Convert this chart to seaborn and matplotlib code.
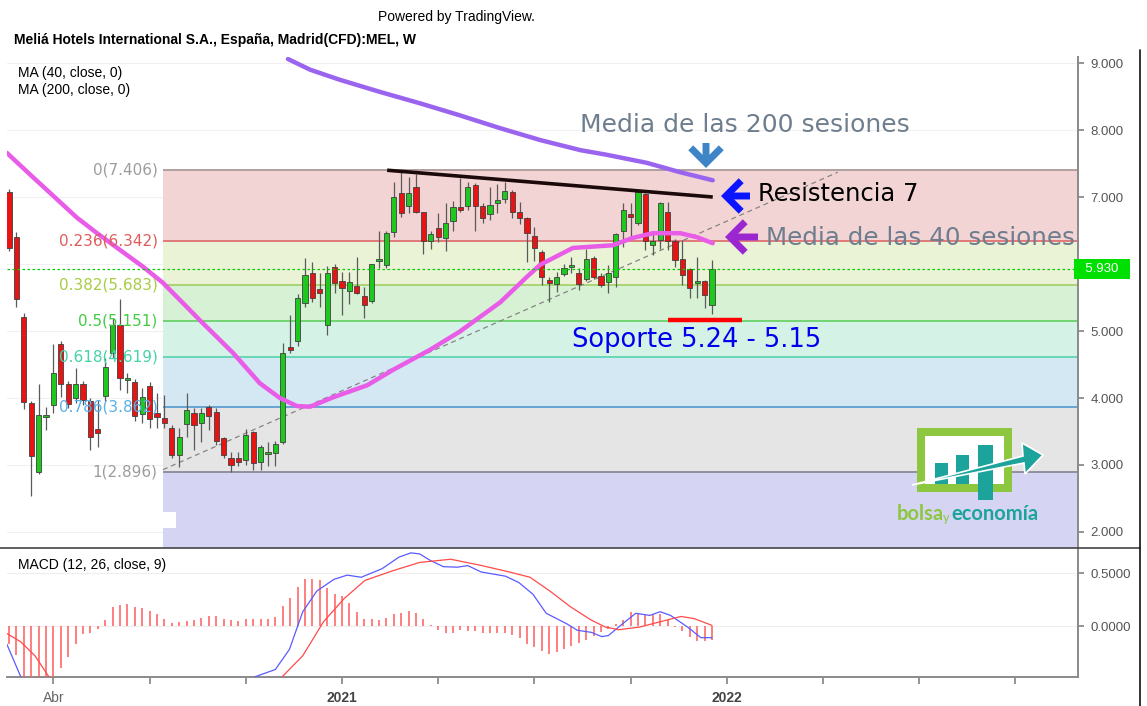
import numpy as np
import matplotlib
matplotlib.use("Agg")
import matplotlib.pyplot as plt
import seaborn as sns
from matplotlib.patches import Rectangle, Polygon, FancyArrowPatch

# Weekly candles, Melia Hotels (MEL), 24 Feb 2020 - 20 Dec 2021
opens = [7.07, 6.40, 5.21, 3.93, 2.90, 3.72, 3.90, 4.81, 4.21, 4.00,
         4.21, 3.96, 3.54, 4.03, 4.67, 5.09, 4.27, 4.24, 3.76, 4.18,
         3.78, 3.70, 3.55, 3.15, 3.61, 3.78, 3.62, 3.87, 3.79, 3.40,
         3.10, 3.10, 3.07, 3.49, 3.05, 3.17, 3.18, 3.34, 4.76, 4.85,
         5.42, 5.87, 5.63, 5.09, 5.96, 5.75, 5.60, 5.67, 5.52, 5.45,
         6.05, 5.99, 6.48, 7.06, 6.87, 7.15, 6.78, 6.34, 6.54, 6.39,
         6.64, 6.85, 6.87, 7.18, 6.87, 6.75, 6.91, 6.97, 7.07, 6.78,
         6.69, 6.42, 6.18, 5.76, 5.70, 5.85, 5.95, 5.87, 5.78, 6.09,
         5.82, 5.73, 5.81, 6.49, 6.75, 6.61, 7.04, 6.28, 6.36, 6.78,
         6.34, 6.07, 5.93, 5.71, 5.75, 5.39]
highs = [7.12, 6.48, 5.27, 3.95, 4.21, 3.87, 4.81, 4.85, 4.25, 4.45,
         4.25, 4.00, 3.97, 4.60, 5.20, 5.48, 4.37, 4.28, 4.15, 4.24,
         4.08, 4.05, 3.60, 3.55, 4.07, 3.85, 3.85, 3.90, 3.85, 3.42,
         3.19, 3.20, 3.54, 3.50, 3.30, 3.35, 3.36, 4.82, 5.24, 5.55,
         6.09, 6.03, 5.87, 5.97, 6.00, 5.88, 5.88, 6.10, 5.66, 6.00,
         6.50, 6.50, 7.22, 7.37, 7.30, 7.34, 6.78, 6.50, 6.76, 6.91,
         6.94, 7.28, 7.22, 7.21, 6.91, 7.15, 7.19, 7.22, 7.10, 6.93,
         6.70, 6.55, 6.21, 5.80, 5.88, 6.00, 6.10, 5.94, 6.22, 6.12,
         5.87, 5.99, 6.46, 6.91, 6.91, 7.10, 7.06, 6.48, 6.93, 6.93,
         6.37, 6.36, 5.94, 6.10, 5.76, 6.06]
lows = [6.20, 5.36, 3.84, 2.54, 2.87, 3.52, 3.78, 4.01, 3.85, 3.93,
        3.90, 3.22, 3.27, 3.95, 4.60, 4.12, 4.07, 3.66, 3.62, 3.55,
        3.55, 3.55, 3.10, 2.97, 3.42, 3.22, 3.34, 3.52, 3.30, 3.10,
        2.90, 2.98, 3.00, 2.93, 2.93, 2.98, 2.98, 3.32, 4.67, 4.78,
        5.36, 5.43, 5.36, 4.94, 5.57, 5.24, 5.40, 5.55, 5.20, 5.42,
        5.94, 5.94, 6.40, 6.70, 6.76, 6.76, 6.15, 6.23, 6.33, 6.20,
        6.50, 6.78, 6.80, 6.50, 6.61, 6.66, 6.76, 6.91, 6.69, 6.60,
        6.03, 6.04, 5.69, 5.43, 5.58, 5.82, 5.87, 5.61, 5.75, 5.78,
        5.66, 5.57, 5.66, 6.25, 6.40, 6.58, 6.21, 6.13, 6.23, 6.21,
        5.96, 5.69, 5.49, 5.49, 5.34, 5.25]
closes = [6.24, 5.48, 3.94, 3.13, 3.75, 3.74, 4.37, 4.21, 3.91, 4.21,
          3.97, 3.42, 3.48, 4.46, 5.09, 4.30, 4.29, 3.73, 4.01, 3.69,
          3.72, 3.63, 3.15, 3.42, 3.82, 3.60, 3.78, 3.73, 3.36, 3.15,
          3.00, 3.05, 3.45, 3.03, 3.27, 3.19, 3.32, 4.67, 4.72, 5.50,
          5.84, 5.49, 5.57, 5.87, 5.72, 5.64, 5.73, 5.57, 5.39, 6.00,
          6.06, 6.46, 7.00, 6.76, 7.06, 6.78, 6.34, 6.45, 6.40, 6.61,
          6.85, 6.80, 7.15, 6.87, 6.69, 6.88, 6.96, 7.09, 6.78, 6.69,
          6.46, 6.24, 5.81, 5.72, 5.80, 5.94, 5.96, 5.70, 6.07, 5.80,
          5.69, 5.87, 6.45, 6.81, 6.70, 7.07, 6.34, 6.34, 6.91, 6.34,
          6.06, 5.84, 5.64, 5.73, 5.54, 5.93]

# moving averages (bar index, price)
ma40_x = [-0.3, 3.2, 9.2, 11.9, 18.1, 20.8, 25.8, 30.3, 33.9, 36.6, 38.9, 40.7,
          43.8, 48.4, 51.9, 56.9, 60.9, 66.4, 70.0, 71.8, 76.2, 81.6, 84.3, 87.0,
          90.7, 93.0, 95.1]
ma40_y = [7.66, 7.30, 6.69, 6.46, 5.96, 5.72, 5.16, 4.67, 4.22, 4.00, 3.88, 3.87,
          4.01, 4.19, 4.42, 4.72, 4.99, 5.43, 5.81, 5.99, 6.24, 6.28, 6.39, 6.46,
          6.46, 6.40, 6.31]
ma200_x = [37.7, 40.7, 44.7, 50.1, 55.5, 60.9, 66.3, 71.8, 77.2, 80.8, 86.2, 90.7, 95.1]
ma200_y = [9.06, 8.90, 8.75, 8.57, 8.40, 8.22, 8.03, 7.85, 7.70, 7.63, 7.51, 7.37, 7.25]

# MACD (12, 26, close, 9)
macd_hist = [-0.17, -0.27, -0.48, -0.48, -0.48, -0.48, -0.48, -0.40, -0.29, -0.17,
             -0.08, -0.07, -0.03, 0.055, 0.18, 0.20, 0.21, 0.18, 0.17, 0.145,
             0.11, 0.07, 0.03, 0.04, 0.045, 0.055, 0.08, 0.09, 0.09, 0.065,
             0.055, 0.05, 0.065, 0.065, 0.07, 0.07, 0.085, 0.19, 0.265, 0.37,
             0.44, 0.44, 0.435, 0.36, 0.30, 0.28, 0.215, 0.135, 0.07, 0.065,
             0.055, 0.08, 0.11, 0.12, 0.14, 0.12, 0.07, 0.013, -0.04, -0.065,
             -0.065, -0.04, -0.05, -0.05, -0.065, -0.065, -0.065, -0.065, -0.085, -0.115,
             -0.165, -0.20, -0.235, -0.26, -0.245, -0.22, -0.19, -0.16, -0.13, -0.09,
             -0.06, -0.025, 0.02, 0.055, 0.135, 0.12, 0.10, 0.10, 0.11, 0.055,
             -0.01, -0.05, -0.105, -0.14, -0.14, -0.13]
macd_x = [-0.3, 1.6, 2.6, np.nan, 32.3, 33.2, 36.0, 37.9, 39.7, 41.6, 43.9, 45.7,
          47.6, 50.4, 52.7, 54.3, 55.5, 56.9, 58.7, 60.6, 62.0, 63.8, 67.1, 68.9,
          70.8, 72.6, 75.4, 76.8, 78.7, 80.1, 81.0, 82.9, 84.7, 86.6, 88.0, 89.4,
          91.7, 93.5, 95.0]
macd_y = [-0.17, -0.48, -0.75, np.nan, -0.75, -0.48, -0.41, -0.22, 0.135, 0.33, 0.44, 0.48,
          0.46, 0.54, 0.65, 0.69, 0.68, 0.62, 0.56, 0.555, 0.57, 0.51, 0.47, 0.41,
          0.30, 0.12, 0.02, -0.04, -0.06, -0.10, -0.09, 0.02, 0.12, 0.10, 0.135, 0.10,
          -0.01, -0.11, -0.11]
signal_x = [-0.3, 1.6, 3.5, 5.4, 6.2, np.nan, 36.0, 36.9, 39.7, 42.5, 45.3, 48.1,
            51.8, 55.5, 59.7, 63.9, 67.6, 70.4, 73.1, 75.9, 78.7, 80.6, 82.4, 85.2,
            88.0, 90.8, 92.6, 95.0]
signal_y = [-0.07, -0.15, -0.28, -0.48, -0.62, np.nan, -0.62, -0.48, -0.28, 0.04, 0.26, 0.43,
            0.52, 0.60, 0.63, 0.57, 0.51, 0.46, 0.33, 0.18, 0.055, -0.01, -0.035, -0.01,
            0.04, 0.09, 0.07, 0.006]

# Fibonacci retracement
fib_ratios = ["0", "0.236", "0.382", "0.5", "0.618", "0.786", "1"]
fib_prices = [7.406, 6.342, 5.683, 5.151, 4.619, 3.862, 2.896]

price_ticks = [2, 3, 4, 5, 6, 7, 8, 9]
macd_ticks = [0.0, 0.5]
month_ticks = [6, 19, 32, 45, 58, 71, 84, 97, 110, 123, 136]
month_labels = ["Abr", "", "", "2021", "", "", "", "2022", "", "", ""]
last_price = 5.93

W, H = 1147, 706
sns.set_theme(style="white")
plt.rcParams["font.family"] = ["DejaVu Sans"]

fig = plt.figure(figsize=(W / 100, H / 100), dpi=100)


def box(x0, y0, x1, y1):
    return [x0 / W, 1 - y1 / H, (x1 - x0) / W, (y1 - y0) / H]


ax = fig.add_axes(box(7, 57, 1078, 548))
ax2 = fig.add_axes(box(7, 548, 1078, 677), sharex=ax)
xmin, xmax = -0.27, 144.46

# --- fibonacci zones
fib_start = 20.8
zone_cols = ["#f3d4d4", "#ebf3d7", "#d6f1d3", "#d4f3e6", "#d4e8f3", "#e5e5e6"]
line_cols = ["#ad9a9a", "#e07272", "#a6d36c", "#6ad26a", "#5fd6b2", "#5c9ed2", "#8a8a9a"]
text_cols = ["#9d9d9d", "#e05c5c", "#a8cc44", "#43cc43", "#45d3a8", "#5aafe6", "#9d9d9d"]
for i in range(6):
    ax.add_patch(Rectangle((fib_start, fib_prices[i + 1]), xmax - fib_start,
                           fib_prices[i] - fib_prices[i + 1], color=zone_cols[i], lw=0, zorder=1))
ax.add_patch(Rectangle((fib_start, 0), xmax - fib_start, fib_prices[-1], color="#d5d5f3", lw=0, zorder=1))
for i, p in enumerate(fib_prices):
    ax.hlines(p, fib_start, xmax, colors=line_cols[i], lw=1.3, zorder=2)
    ax.text(20.1, p, f"{fib_ratios[i]}({p:.3f})", ha="right", va="center",
            color=text_cols[i], fontsize=11, zorder=8)

for t in price_ticks:
    ax.axhline(t, color="#f0f0f0", lw=0.8, zorder=0.5)

# dashed trend line, resistance, support
ax.plot([20.8, 112], [2.93, 7.37], ls=(0, (4, 3)), color="#858585", lw=0.9, zorder=3)
ax.plot([51.1, 95.1], [7.40, 7.00], color="#1c0a0a", lw=2.6, zorder=6, solid_capstyle="butt")
ax.plot([89.1, 99.1], [5.16, 5.16], color="#ff0000", lw=3.2, zorder=6, solid_capstyle="butt")

# --- candles
idx = np.arange(len(closes))
o = np.array(opens)
c = np.array(closes)
cols = np.where(c >= o, "#1ec81e", "#e81414")
ax.vlines(idx, lows, highs, color="#5a5a5a", lw=0.9, zorder=3.5)
ax.bar(idx, np.maximum(np.abs(c - o), 0.03), bottom=np.minimum(o, c), width=0.7,
       color=cols, edgecolor="#404040", linewidth=0.6, zorder=4)

# --- moving averages
sns.lineplot(x=ma40_x, y=ma40_y, ax=ax, color="#e85ce8", lw=3.2, sort=False, estimator=None, zorder=5)
sns.lineplot(x=ma200_x, y=ma200_y, ax=ax, color="#9b64ee", lw=3.2, sort=False, estimator=None, zorder=5)

ax.axhline(last_price, color="#00d000", ls=(0, (2, 2)), lw=0.9, zorder=5)
ax.text(1.0, last_price, "  5.930  ", transform=ax.get_yaxis_transform(), ha="left", va="center",
        color="white", fontsize=9.5, family="Liberation Sans", clip_on=False, zorder=9,
        bbox=dict(boxstyle="square,pad=0.3", fc="#00e000", ec="none"))

ax.set_xlim(xmin, xmax)
ax.set_ylim(1.761, 9.09)
ax.yaxis.tick_right()
ax.set_yticks(price_ticks)
# the 6.000 label sits under the last-price box
ax.set_yticklabels(["" if t == 6 else f"{t:.3f}" for t in price_ticks])
ax.tick_params(axis="y", direction="out", length=4, color="#888888", labelcolor="#555555",
               labelsize=9.5, pad=5, right=True)
ax.tick_params(axis="x", bottom=False, labelbottom=False)
for lab in ax.get_yticklabels():
    lab.set_family("Liberation Sans")
for s in ["top", "left", "bottom"]:
    ax.spines[s].set_visible(False)
ax.spines["right"].set_color("#8a8a8a")
ax.spines["right"].set_linewidth(1.4)
ax.set_facecolor("white")

# --- MACD panel
ax2.vlines(idx, 0, macd_hist, color="#ff5c5c", lw=1.1, zorder=3)


def segments(xs, ys):
    out, cx, cy = [], [], []
    for a, b in zip(xs, ys):
        if np.isnan(a):
            out.append((cx, cy))
            cx, cy = [], []
        else:
            cx.append(a)
            cy.append(b)
    out.append((cx, cy))
    return out


for sx, sy in segments(macd_x, macd_y):
    sns.lineplot(x=sx, y=sy, ax=ax2, color="#5a5aff", lw=0.9, sort=False, estimator=None, zorder=4)
for sx, sy in segments(signal_x, signal_y):
    sns.lineplot(x=sx, y=sy, ax=ax2, color="#ff4a4a", lw=0.9, sort=False, estimator=None, zorder=4)

for t in macd_ticks:
    ax2.axhline(t, color="#eeeeee", lw=0.8, zorder=0.5)
ax2.set_ylim(-0.481, 0.736)
ax2.set_xlim(xmin, xmax)
ax2.yaxis.tick_right()
ax2.set_yticks(macd_ticks)
ax2.set_yticklabels([f"{t:.4f}" for t in macd_ticks])
ax2.set_xticks(month_ticks)
ax2.set_xticklabels(month_labels)
ax2.tick_params(axis="y", direction="out", length=4, color="#888888", labelcolor="#555555",
                labelsize=9.5, pad=5, right=True)
ax2.tick_params(axis="x", direction="out", length=5, color="#888888", labelcolor="#666666",
                labelsize=10, pad=5, bottom=True)
for lab in ax2.get_yticklabels() + ax2.get_xticklabels():
    lab.set_family("Liberation Sans")
for lab in ax2.get_xticklabels():
    if lab.get_text().isdigit():
        lab.set_fontweight("bold")
        lab.set_color("#444444")
for s in ["top", "left"]:
    ax2.spines[s].set_visible(False)
for s in ["right", "bottom"]:
    ax2.spines[s].set_color("#8a8a8a")
    ax2.spines[s].set_linewidth(1.4)
ax2.set_ylabel("")
ax.set_ylabel("")

# --- overlay in pixel coordinates for headers, annotations and logo
ov = fig.add_axes([0, 0, 1, 1], zorder=10)
ov.set_xlim(0, W)
ov.set_ylim(H, 0)
ov.axis("off")
ov.patch.set_alpha(0)

ov.plot([0, 1140], [548, 548], color="#444444", lw=1.2)
ov.plot([1140, 1140], [50, H], color="#111111", lw=1.2)
ov.add_patch(Rectangle((160, 512), 16, 16, color="white", lw=0))

hdr = dict(family="Liberation Sans", color="black", va="center", ha="left")
ov.text(378, 17, "Powered by TradingView.", fontsize=10, **hdr)
ov.text(14, 40, "Meliá Hotels International S.A., España, Madrid(CFD):MEL, W",
        fontsize=10, fontweight="bold", **hdr)
ov.text(18, 73, "MA (40, close, 0)", fontsize=10, **hdr)
ov.text(18, 90, "MA (200, close, 0)", fontsize=10, **hdr)
ov.text(18, 565, "MACD (12, 26, close, 9)", fontsize=10, **hdr)

ov.text(580, 125, "Media de las 200 sesiones", fontsize=18, color="#6e7e8e", va="center")
ov.text(758, 194, "Resistencia 7", fontsize=17.5, color="black", va="center")
ov.text(766, 238, "Media de las 40 sesiones", fontsize=17.7, color="#6e7e8e", va="center")
ov.text(572, 340, "Soporte 5.24 - 5.15", fontsize=18.5, color="#0000ee", va="center")

arrow_style = "->,head_length=0.55,head_width=0.55"
for (x0, y0, x1, y1, col) in [(706, 143, 706, 168, "#3d85c6"),
                              (750, 196, 721, 196, "#0a14ff"),
                              (758, 237, 725, 237, "#9b27d1")]:
    ov.add_patch(FancyArrowPatch((x0, y0), (x1, y1), arrowstyle=arrow_style, mutation_scale=20,
                                 lw=5, color=col, capstyle="butt", joinstyle="miter",
                                 shrinkA=0, shrinkB=0))

# logo bolsayeconomia
ov.add_patch(Rectangle((917, 428), 95, 64, color="#8dc63f", lw=0))
ov.add_patch(Rectangle((925, 436), 79, 48, color="white", lw=0))
for bx, by, bw, bh in [(935, 463, 13, 21), (956, 455, 13, 29), (978, 445, 15, 55)]:
    ov.add_patch(Rectangle((bx, by), bw, bh, color="#1ba39c", lw=0))
ov.add_patch(Polygon([(912, 485), (1023, 456), (1022, 443), (1043, 455), (1025, 474), (1024, 463)],
                     closed=True, fc="#1ba39c", ec="white", lw=1.2))
ov.text(897, 514, "bolsa", fontsize=14.5, fontweight="bold", color="#8dc63f", family="Lato",
        va="center", ha="left")
ov.text(943, 518, "y", fontsize=9, color="#8dc63f", family="Lato", va="center", ha="left")
ov.text(951, 514, "economía", fontsize=14.5, fontweight="bold", color="#1ba39c", family="Lato",
        va="center", ha="left")

fig.savefig("out.png", dpi=100, facecolor="white")
